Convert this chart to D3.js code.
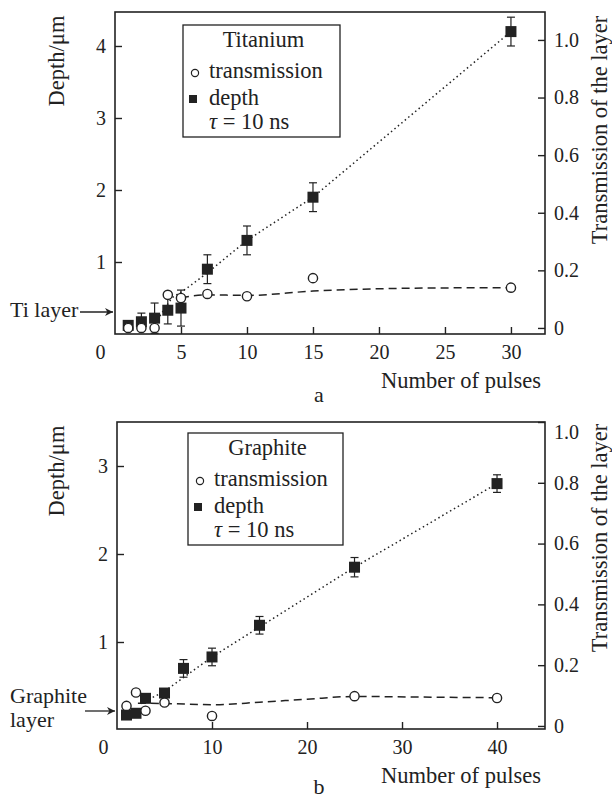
<!DOCTYPE html>
<html>
<head>
<meta charset="utf-8">
<script src="https://cdn.jsdelivr.net/npm/d3@7"></script>
<style>
  html, body { margin: 0; padding: 0; background: #fff; }
  svg { display: block; }
</style>
</head>
<body>
<script>
// ---- data: panel a (Titanium) ----
const tiPulses   = [1, 2, 3, 4, 5, 7, 10, 15, 30];
const tiDepth    = [0.12, 0.17, 0.22, 0.33, 0.36, 0.9, 1.3, 1.9, 4.2];
const tiDepthErr = [0.06, 0.12, 0.21, 0.19, 0.25, 0.2, 0.2, 0.2, 0.2];
const tiTrans    = [0.0, 0.0, 0.0, 0.115, 0.104, 0.118, 0.11, 0.173, 0.14];
const tiDepthFitX = [3.4, 4.3, 5.4, 7, 10, 15, 30];
const tiDepthFitY = [0.25, 0.5, 0.63, 0.85, 1.3, 1.9, 4.2];
const tiTransFitX = [5, 7, 10, 15, 20, 25, 30];
const tiTransFitY = [0.105, 0.115, 0.113, 0.128, 0.136, 0.139, 0.14];

// ---- data: panel b (Graphite) ----
const grPulses   = [1, 2, 3, 5, 7, 10, 15, 25, 40];
const grDepth    = [0.17, 0.19, 0.36, 0.42, 0.7, 0.83, 1.19, 1.85, 2.8];
const grDepthErr = [0, 0, 0.04, 0.05, 0.1, 0.1, 0.1, 0.11, 0.1];
const grTransPulses = [1, 2, 3, 5, 10, 25, 40];
const grTrans    = [0.066, 0.11, 0.05, 0.077, 0.033, 0.098, 0.092];
const grDepthFitX = [2.5, 5, 10, 15, 25, 40];
const grDepthFitY = [0.3, 0.44, 0.83, 1.17, 1.85, 2.8];
const grTransFitX = [2.2, 5, 10, 15, 20, 25, 32, 40];
const grTransFitY = [0.075, 0.074, 0.07, 0.078, 0.088, 0.097, 0.095, 0.093];

// ---- tick labels ----
const tiXTicks = [0, 5, 10, 15, 20, 25, 30];
const tiDepthTicks = [1, 2, 3, 4];
const grXTicks = [0, 10, 20, 30, 40];
const grDepthTicks = [1, 2, 3];
const transTicks = [0, 0.2, 0.4, 0.6, 0.8, 1.0];

const W = 612, H = 800;
const INK = "#222";
const SERIF = "Liberation Serif";

const svg = d3.select("body").append("svg")
  .attr("width", W).attr("height", H)
  .attr("viewBox", `0 0 ${W} ${H}`);

const defs = svg.append("defs");
defs.append("marker")
  .attr("id", "arrow")
  .attr("viewBox", "0 0 10 10")
  .attr("refX", 10).attr("refY", 5)
  .attr("markerWidth", 10).attr("markerHeight", 8)
  .attr("markerUnits", "userSpaceOnUse")
  .attr("orient", "auto")
  .append("path")
  .attr("d", "M0,0 L10,5 L0,10 L3,5 Z")
  .attr("fill", INK);

drawPanel({
  left: 115, right: 545, top: 12, bottom: 334,
  xDomain: [0, 32.58],
  depthDomain: [0, 4.472], depthRange: [334, 12],
  transDomain: [-0.021, 1.097],
  xTicks: tiXTicks, depthTicks: tiDepthTicks,
  pulses: tiPulses, depth: tiDepth, depthErr: tiDepthErr,
  transPulses: tiPulses, trans: tiTrans,
  depthFitX: tiDepthFitX, depthFitY: tiDepthFitY,
  transFitX: tiTransFitX, transFitY: tiTransFitY,
  zeroDx: -15, topLabelDy: 0,
  depthLabelY: 61, transLabelY: 130,
  legend: { x: 183, y: 25, w: 157, h: 112, title: "Titanium" },
  layerLabel: ["Ti layer"], layerY: 312, layerTextY: 317, layerArrowX0: 80,
  letter: "a", letterY: 402, xTitleY: 388
});

drawPanel({
  left: 117, right: 545, top: 422, bottom: 729,
  xDomain: [0, 45.05],
  depthDomain: [0, 3.5], depthRange: [730, 422],
  transDomain: [-0.01, 1.0],
  xTicks: grXTicks, depthTicks: grDepthTicks,
  pulses: grPulses, depth: grDepth, depthErr: grDepthErr,
  transPulses: grTransPulses, trans: grTrans,
  depthFitX: grDepthFitX, depthFitY: grDepthFitY,
  transFitX: grTransFitX, transFitY: grTransFitY,
  zeroDx: -14, topLabelDy: 10,
  depthLabelY: 471, transLabelY: 538,
  legend: { x: 188, y: 433, w: 155, h: 112, title: "Graphite" },
  layerLabel: ["Graphite", "layer"], layerY: 711, layerTextY: 703, layerArrowX0: 85,
  letter: "b", letterY: 794, xTitleY: 783
});

function label(sel, size) {
  return sel.attr("font-family", SERIF).attr("font-size", size).attr("fill", INK);
}

function drawPanel(c) {
  const g = svg.append("g");
  const x = d3.scaleLinear().domain(c.xDomain).range([c.left, c.right]);
  const yD = d3.scaleLinear().domain(c.depthDomain).range(c.depthRange);
  const yT = d3.scaleLinear().domain(c.transDomain).range([c.bottom, c.top]);

  // frame
  g.append("rect")
    .attr("x", c.left).attr("y", c.top)
    .attr("width", c.right - c.left).attr("height", c.bottom - c.top)
    .attr("fill", "none").attr("stroke", INK).attr("stroke-width", 1.6);

  // axes (ticks inward)
  const xAx = g.append("g")
    .attr("transform", `translate(0,${c.bottom})`)
    .call(d3.axisBottom(x).tickValues(c.xTicks).tickSize(-7).tickSizeOuter(0).tickPadding(11).tickFormat(d3.format("d")));
  const yAx = g.append("g")
    .attr("transform", `translate(${c.left},0)`)
    .call(d3.axisLeft(yD).tickValues(c.depthTicks).tickSize(-7).tickSizeOuter(0).tickPadding(9).tickFormat(d3.format("d")));
  const tAx = g.append("g")
    .attr("transform", `translate(${c.right},0)`)
    .call(d3.axisRight(yT).tickValues(transTicks).tickSize(-7).tickSizeOuter(0).tickPadding(9)
      .tickFormat(d => d === 0 ? "0" : d.toFixed(1)));

  [xAx, yAx, tAx].forEach(a => {
    a.attr("font-family", SERIF).attr("font-size", 20);
    a.select(".domain").remove();
    a.selectAll("line").attr("stroke", INK).attr("stroke-width", 1.4);
    label(a.selectAll("text"), 20);
  });
  xAx.selectAll(".tick").filter(d => d === 0).select("line").remove();
  xAx.selectAll(".tick").filter(d => d === 0).select("text").attr("x", c.zeroDx);
  tAx.selectAll(".tick").filter(d => d === 1).select("text").attr("y", c.topLabelDy);

  // axis titles
  label(g.append("text"), 22.5)
    .attr("transform", `translate(${64},${c.depthLabelY}) rotate(-90)`)
    .attr("text-anchor", "middle")
    .text("Depth/μm");
  label(g.append("text"), 22.5)
    .attr("transform", `translate(${607},${c.transLabelY}) rotate(-90)`)
    .attr("text-anchor", "middle")
    .text("Transmission of the layer");
  label(g.append("text"), 22.5)
    .attr("x", c.right - 4).attr("y", c.xTitleY)
    .attr("text-anchor", "end")
    .text("Number of pulses");
  label(g.append("text"), 22)
    .attr("x", 319).attr("y", c.letterY)
    .attr("text-anchor", "middle")
    .text(c.letter);

  // layer annotation
  c.layerLabel.forEach((t, i) => {
    label(g.append("text"), 22)
      .attr("x", 10).attr("y", c.layerTextY + i * 24)
      .text(t);
  });
  g.append("line")
    .attr("x1", c.layerArrowX0).attr("x2", c.left - 2)
    .attr("y1", c.layerY).attr("y2", c.layerY)
    .attr("stroke", INK).attr("stroke-width", 1.3)
    .attr("marker-end", "url(#arrow)");

  // fit lines
  const depthFit = c.depthFitX.map((v, i) => [v, c.depthFitY[i]]);
  const transFit = c.transFitX.map((v, i) => [v, c.transFitY[i]]);
  g.append("path")
    .datum(depthFit)
    .attr("d", d3.line().x(d => x(d[0])).y(d => yD(d[1])))
    .attr("fill", "none").attr("stroke", INK)
    .attr("stroke-width", 1.5).attr("stroke-dasharray", "1.5,3");
  g.append("path")
    .datum(transFit)
    .attr("d", d3.line().x(d => x(d[0])).y(d => yT(d[1])).curve(d3.curveMonotoneX))
    .attr("fill", "none").attr("stroke", INK)
    .attr("stroke-width", 1.5).attr("stroke-dasharray", "8,5");

  // depth points with error bars
  const pts = c.pulses.map((p, i) => ({ p, d: c.depth[i], e: c.depthErr[i] }));
  const eb = g.append("g").attr("stroke", INK).attr("stroke-width", 1.2);
  pts.filter(d => d.e > 0).forEach(d => {
    const px = x(d.p), y0 = yD(d.d - d.e), y1 = yD(d.d + d.e);
    eb.append("line").attr("x1", px).attr("x2", px).attr("y1", y0).attr("y2", y1);
    eb.append("line").attr("x1", px - 4).attr("x2", px + 4).attr("y1", y0).attr("y2", y0);
    eb.append("line").attr("x1", px - 4).attr("x2", px + 4).attr("y1", y1).attr("y2", y1);
  });
  g.selectAll(".sq")
    .data(pts).enter()
    .append("rect")
    .attr("x", d => x(d.p) - 5.5).attr("y", d => yD(d.d) - 5.5)
    .attr("width", 11).attr("height", 11)
    .attr("fill", INK);

  // transmission points
  const tpts = c.transPulses.map((p, i) => ({ p, t: c.trans[i] }));
  g.selectAll(".ci")
    .data(tpts).enter()
    .append("circle")
    .attr("cx", d => x(d.p)).attr("cy", d => yT(d.t))
    .attr("r", 4.6)
    .attr("fill", "#fff").attr("stroke", INK).attr("stroke-width", 1.4);

  // legend
  const L = c.legend;
  const lg = g.append("g");
  lg.append("rect")
    .attr("x", L.x).attr("y", L.y).attr("width", L.w).attr("height", L.h)
    .attr("fill", "#fff").attr("stroke", INK).attr("stroke-width", 1.3);
  label(lg.append("text"), 22.5)
    .attr("x", L.x + L.w / 2 + 2).attr("y", L.y + 22)
    .attr("text-anchor", "middle")
    .text(L.title);
  lg.append("circle")
    .attr("cx", L.x + 12).attr("cy", L.y + 48).attr("r", 3.6)
    .attr("fill", "#fff").attr("stroke", INK).attr("stroke-width", 1.2);
  label(lg.append("text"), 22.5)
    .attr("x", L.x + 26).attr("y", L.y + 53)
    .text("transmission");
  lg.append("rect")
    .attr("x", L.x + 6).attr("y", L.y + 70).attr("width", 8).attr("height", 8)
    .attr("fill", INK);
  label(lg.append("text"), 22.5)
    .attr("x", L.x + 26).attr("y", L.y + 80)
    .text("depth");
  const tau = label(lg.append("text"), 22.5)
    .attr("x", L.x + 26).attr("y", L.y + 104);
  tau.append("tspan").attr("font-style", "italic").text("τ");
  tau.append("tspan").text(" = 10 ns");
}
</script>
</body>
</html>
